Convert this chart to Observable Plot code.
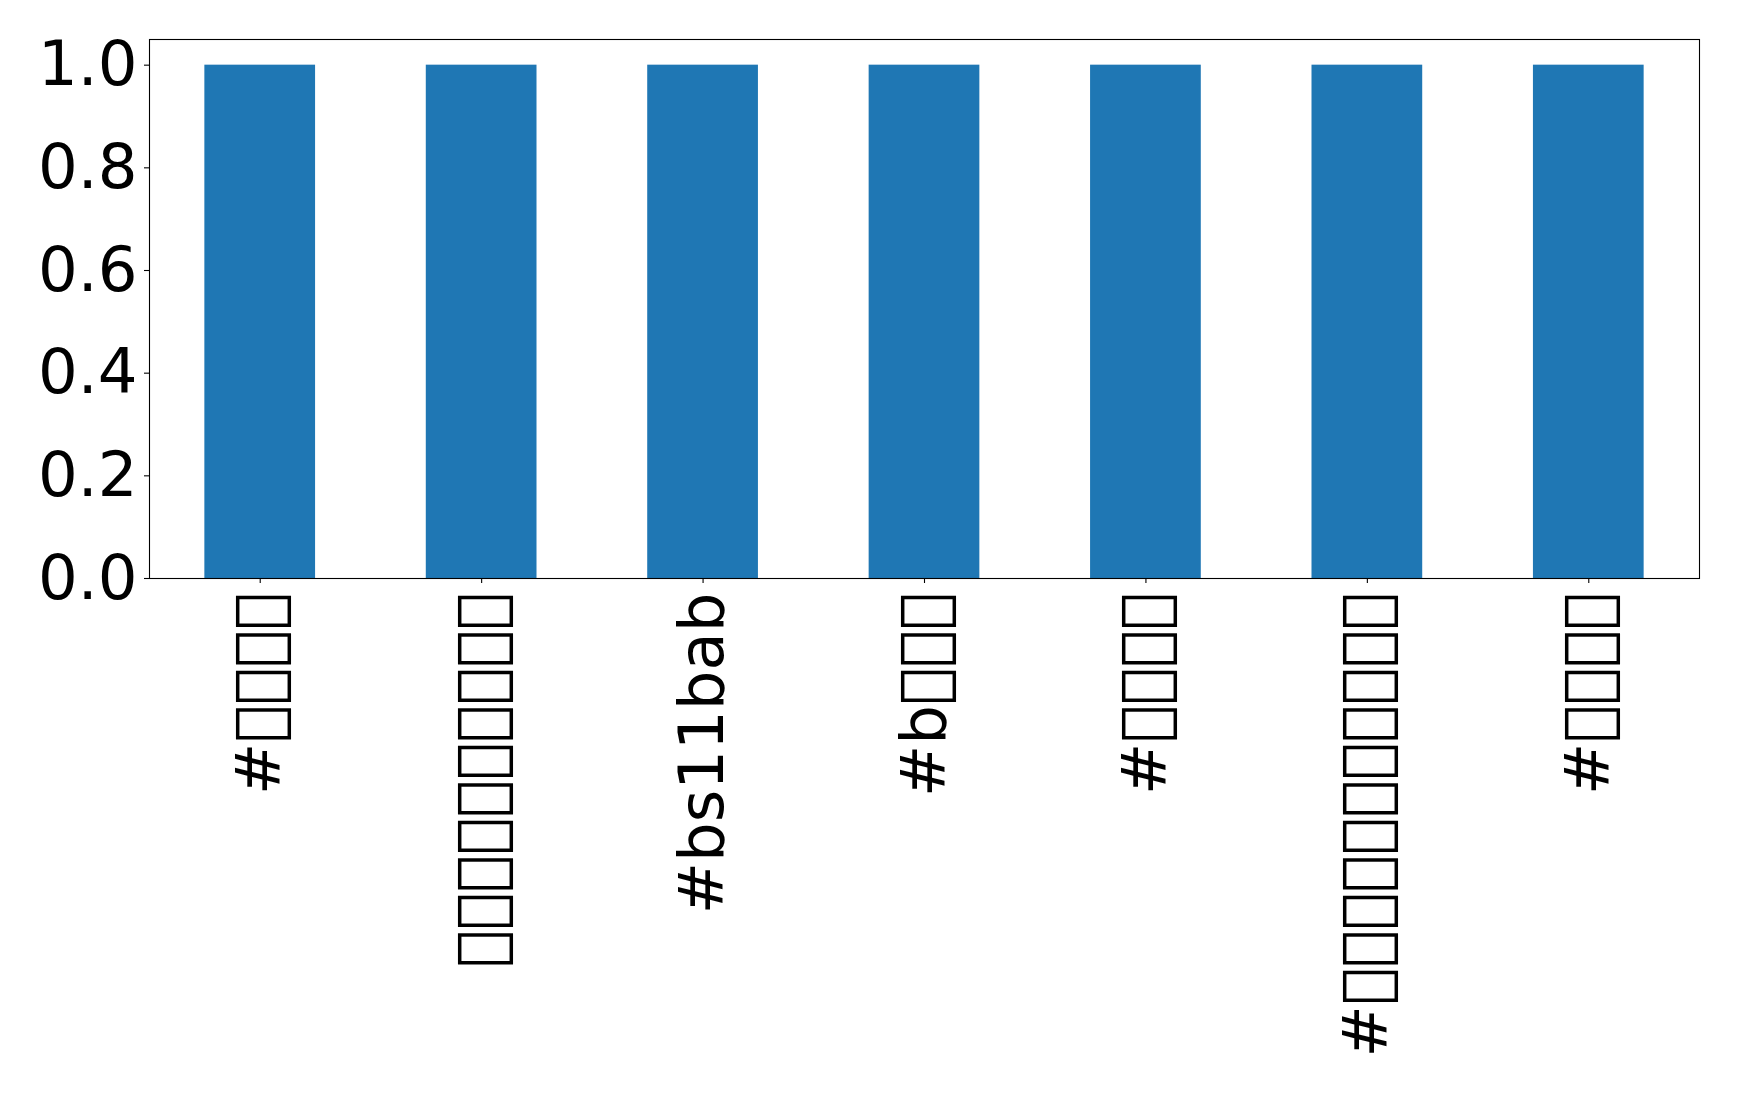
<!DOCTYPE html>
<html>
<head>
<meta charset="utf-8">
<script src="https://cdn.jsdelivr.net/npm/d3@7"></script>
<script src="https://cdn.jsdelivr.net/npm/@observablehq/plot@0.6"></script>
<style>
  html, body { margin: 0; padding: 0; background: #fff; }
  #chart svg { display: block; font-family: "DejaVu Sans", sans-serif; }
</style>
</head>
<body>
<div id="chart"></div>
<script>
// Labels as rendered in the reference: CJK glyphs were missing (tofu boxes),
// reproduced here with characters that have no glyph in the font.
const categories = [
  "#\uE000\uE001\uE002\uE003",
  "\uE010\uE011\uE012\uE013\uE014\uE015\uE016\uE017\uE018\uE019",
  "#bs11bab",
  "#b\uE020\uE021\uE022",
  "#\uE030\uE031\uE032\uE033",
  "#\uE040\uE041\uE042\uE043\uE044\uE045\uE046\uE047\uE048\uE049\uE04A",
  "#\uE050\uE051\uE052\uE053"
];
const values = [1, 1, 1, 1, 1, 1, 1];
const yTicks = [0, 0.2, 0.4, 0.6, 0.8, 1.0];

const data = categories.map((c, i) => ({i, label: c, value: values[i]}));

const chart = Plot.plot({
  width: 1739,
  height: 1093,
  marginLeft: 149,
  marginRight: 40,
  marginTop: 39,
  marginBottom: 515,
  style: {fontFamily: "DejaVu Sans", fontSize: "62.5px", color: "#000", background: "#fff"},
  x: {type: "band", domain: d3.range(categories.length), paddingInner: 0.5, paddingOuter: 0.25, round: false, label: null},
  y: {domain: [0, 1.05], label: null},
  marks: [
    Plot.barY(data, {x: "i", y: "value", fill: "#1f77b4"}),
    Plot.axisY({ticks: yTicks, tickFormat: d3.format(".1f"), tickSize: 5, tickPadding: 7, fontSize: 62.5, label: null, stroke: "#000", strokeWidth: 1.1}),
    Plot.axisX({tickFormat: i => categories[i], tickRotate: -90, tickSize: 5, tickPadding: 9, fontSize: 62.5, label: null, stroke: "#000", strokeWidth: 1.1}),
    Plot.frame({stroke: "#000", strokeWidth: 1.1})
  ]
});
document.getElementById("chart").appendChild(chart);
</script>
</body>
</html>
